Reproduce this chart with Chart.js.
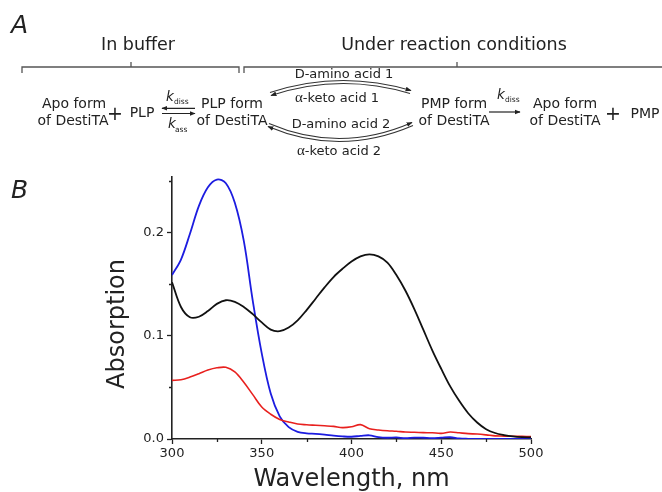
<!DOCTYPE html>
<html>
<head>
<meta charset="utf-8">
<script src="https://cdn.jsdelivr.net/npm/chart.js@4"></script>
<style>
  html, body { margin:0; padding:0; background:#fff; }
  #wrap { position:relative; width:662px; height:492px; overflow:hidden; background:#fff; }
  #c { position:absolute; left:0; top:0; }
  #scheme { position:absolute; left:0; top:0; }
  #scheme text { font-family:"DejaVu Sans", sans-serif; fill:#222; }
</style>
</head>
<body>
<div id="wrap">
<canvas id="c" width="662" height="492"></canvas>
<svg id="scheme" width="662" height="210" viewBox="0 0 662 210">
  <defs>
    <marker id="ah" viewBox="0 0 10 10" refX="9" refY="5" markerWidth="6" markerHeight="6" markerUnits="userSpaceOnUse" orient="auto-start-reverse">
      <path d="M0,1 L10,5 L0,9 z" fill="#222"/>
    </marker>
  </defs>
  <!-- panel letters -->
  <text x="11" y="33" font-size="25" font-style="italic">A</text>
  <text x="11" y="198" font-size="25" font-style="italic">B</text>
  <!-- headers -->
  <text x="138" y="50" font-size="17.5" text-anchor="middle">In buffer</text>
  <text x="454" y="50" font-size="17.5" text-anchor="middle">Under reaction conditions</text>
  <!-- brackets -->
  <path d="M22,73 V67 H239 V73 M131,67 V62" fill="none" stroke="#555" stroke-width="1.3"/>
  <path d="M244,73 V67 H662 M457,67 V62" fill="none" stroke="#555" stroke-width="1.3"/>
  <!-- left species -->
  <text x="74" y="108" font-size="14" text-anchor="middle">Apo form</text>
  <text x="73" y="125" font-size="14" text-anchor="middle">of DestiTA</text>
  <text x="115" y="120" font-size="19" text-anchor="middle">+</text>
  <text x="142" y="117" font-size="14" text-anchor="middle">PLP</text>
  <!-- k_diss / k_ass -->
  <text x="166" y="100.5" font-size="13.5" font-style="italic">k</text>
  <text x="174" y="104" font-size="7.5">diss</text>
  <line x1="195" y1="108.3" x2="162" y2="108.3" stroke="#222" stroke-width="1.2" marker-end="url(#ah)"/>
  <line x1="162" y1="113.5" x2="195" y2="113.5" stroke="#222" stroke-width="1.2" marker-end="url(#ah)"/>
  <text x="168" y="128" font-size="13.5" font-style="italic">k</text>
  <text x="175" y="132" font-size="7.5">ass</text>
  <text x="232" y="108" font-size="14" text-anchor="middle">PLP form</text>
  <text x="232" y="125" font-size="14" text-anchor="middle">of DestiTA</text>
  <!-- curved equilibria -->
  <path d="M271,95.5 Q340,72.5 410,93.5" fill="none" stroke="#333" stroke-width="1.1" marker-start="url(#ah)"/>
  <path d="M270,92.5 Q340,69.5 411,90.5" fill="none" stroke="#333" stroke-width="1.1" marker-end="url(#ah)"/>
  <path d="M268,126.5 Q340,157 413,125.5" fill="none" stroke="#333" stroke-width="1.1" marker-start="url(#ah)"/>
  <path d="M269,123.5 Q340,154 412,122.5" fill="none" stroke="#333" stroke-width="1.1" marker-end="url(#ah)"/>
  <text x="344" y="78.3" font-size="13" text-anchor="middle">D-amino acid 1</text>
  <text x="337" y="101.7" font-size="13" text-anchor="middle"><tspan font-family="Liberation Serif" font-size="15">α</tspan>-keto acid 1</text>
  <text x="341" y="128" font-size="13" text-anchor="middle">D-amino acid 2</text>
  <text x="339" y="155" font-size="13" text-anchor="middle"><tspan font-family="Liberation Serif" font-size="15">α</tspan>-keto acid 2</text>
  <!-- right species -->
  <text x="454" y="108" font-size="14" text-anchor="middle">PMP form</text>
  <text x="454" y="125" font-size="14" text-anchor="middle">of DestiTA</text>
  <text x="497" y="98.5" font-size="13.5" font-style="italic">k</text>
  <text x="505" y="102" font-size="7.5">diss</text>
  <line x1="489" y1="112" x2="520" y2="112" stroke="#222" stroke-width="1.2" marker-end="url(#ah)"/>
  <text x="565" y="108" font-size="14" text-anchor="middle">Apo form</text>
  <text x="565" y="125" font-size="14" text-anchor="middle">of DestiTA</text>
  <text x="613" y="120" font-size="19" text-anchor="middle">+</text>
  <text x="645" y="118" font-size="14" text-anchor="middle">PMP</text>
</svg>
</div>
<script>
// ---- data ----
const wavelengths = [300,305,310,315,320,325,330,335,340,345,350,355,360,365,370,375,380,385,390,395,400,
                     405,410,415,420,425,430,435,440,445,450,455,460,465,470,475,480,485,490,495,500];
const blackSeries = [0.152,0.128,0.118,0.1185,0.124,0.131,0.1345,0.133,0.128,0.121,0.113,0.106,0.1045,0.108,0.115,0.125,0.136,0.147,0.157,0.165,0.172,
                     0.177,0.179,0.177,0.171,0.159,0.144,0.126,0.106,0.086,0.068,0.051,0.037,0.025,0.016,0.0095,0.0058,0.0038,0.0025,0.0018,0.0015];
const blueSeries  = [0.159,0.174,0.199,0.226,0.244,0.2515,0.248,0.229,0.192,0.134,0.083,0.044,0.022,0.0115,0.007,0.0055,0.005,0.0042,0.0032,0.0025,0.0022,
                     0.003,0.0036,0.0018,0.0012,0.0015,0.0008,0.0014,0.0012,0.0009,0.0013,0.0017,0.0005,0.0002,0.0001,0.0001,0.0001,0.0001,0.0001,0.0001,0.0001];
const redSeries   = [0.0568,0.0575,0.060,0.0633,0.0668,0.069,0.0695,0.065,0.055,0.043,0.031,0.024,0.019,0.0165,0.0145,0.0138,0.0133,0.0128,0.0122,0.011,0.0118,
                     0.0139,0.010,0.0088,0.008,0.0075,0.0068,0.0065,0.0062,0.006,0.0055,0.0068,0.006,0.0052,0.0048,0.004,0.003,0.0028,0.0026,0.0025,0.0024];
const xMajorTicks = [300,350,400,450,500];
const xMinorTicks = [325,375,425,475];
const yMinorTicks = [0.05,0.15,0.25];
const xTitle = 'Wavelength, nm';
const yTitle = 'Absorption';

const toPts = arr => wavelengths.map((w,i) => ({x:w, y:arr[i]}));
const axisColor = '#222';
const tickFont = {family:'DejaVu Sans', size:13};

const minorTicks = {
  id:'minorTicks',
  afterDraw(chart){
    const {ctx, scales:{x,y}} = chart;
    ctx.save();
    ctx.strokeStyle = axisColor; ctx.lineWidth = 1.3;
    ctx.beginPath();
    xMinorTicks.forEach(v => { const px = Math.round(x.getPixelForValue(v))+0.5; ctx.moveTo(px, y.bottom); ctx.lineTo(px, y.bottom+3); });
    yMinorTicks.forEach(v => { const py = Math.round(y.getPixelForValue(v))+0.5; ctx.moveTo(x.left, py); ctx.lineTo(x.left-3, py); });
    ctx.stroke();
    // y axis title
    ctx.fillStyle = axisColor;
    ctx.font = '24px "DejaVu Sans"';
    ctx.textAlign = 'center'; ctx.textBaseline = 'alphabetic';
    ctx.translate(x.left - 48, (y.top + y.bottom)/2 + 16);
    ctx.rotate(-Math.PI/2);
    ctx.fillText(yTitle, 0, 0);
    ctx.restore();
  }
};

new Chart(document.getElementById('c'), {
  type:'line',
  data:{
    datasets:[
      {label:'black', data:toPts(blackSeries), borderColor:'#111', borderWidth:1.8},
      {label:'red', data:toPts(redSeries), borderColor:'#e8201e', borderWidth:1.6},
      {label:'blue', data:toPts(blueSeries), borderColor:'#1c1ce0', borderWidth:1.8}
    ]
  },
  options:{
    responsive:false, animation:false, devicePixelRatio:1,
    layout:{padding:{left:0, right:131, top:177, bottom:0}},
    elements:{point:{radius:0}, line:{tension:0.35, fill:false}},
    plugins:{legend:{display:false}, tooltip:{enabled:false}},
    scales:{
      x:{
        type:'linear', min:300, max:500,
        afterBuildTicks(s){ s.ticks = xMajorTicks.map(v => ({value:v})); },
        ticks:{font:tickFont, color:axisColor, padding:2, maxRotation:0},
        grid:{drawOnChartArea:false, tickLength:5, color:axisColor, tickWidth:1.3},
        border:{color:axisColor, width:1.6},
        title:{display:true, text:xTitle, color:axisColor, font:{family:'DejaVu Sans', size:24}, padding:{top:0,bottom:-2}},
        afterFit(s){ s.height = 53; }
      },
      y:{
        min:0, max:0.254,
        ticks:{stepSize:0.1, includeBounds:false, font:tickFont, color:axisColor, padding:3, callback:v => v.toFixed(1)},
        grid:{drawOnChartArea:false, tickLength:5, color:axisColor, tickWidth:1.3},
        border:{color:axisColor, width:1.6},
        afterFit(s){ s.width = 172; }
      }
    }
  },
  plugins:[minorTicks]
});
</script>
</body>
</html>
